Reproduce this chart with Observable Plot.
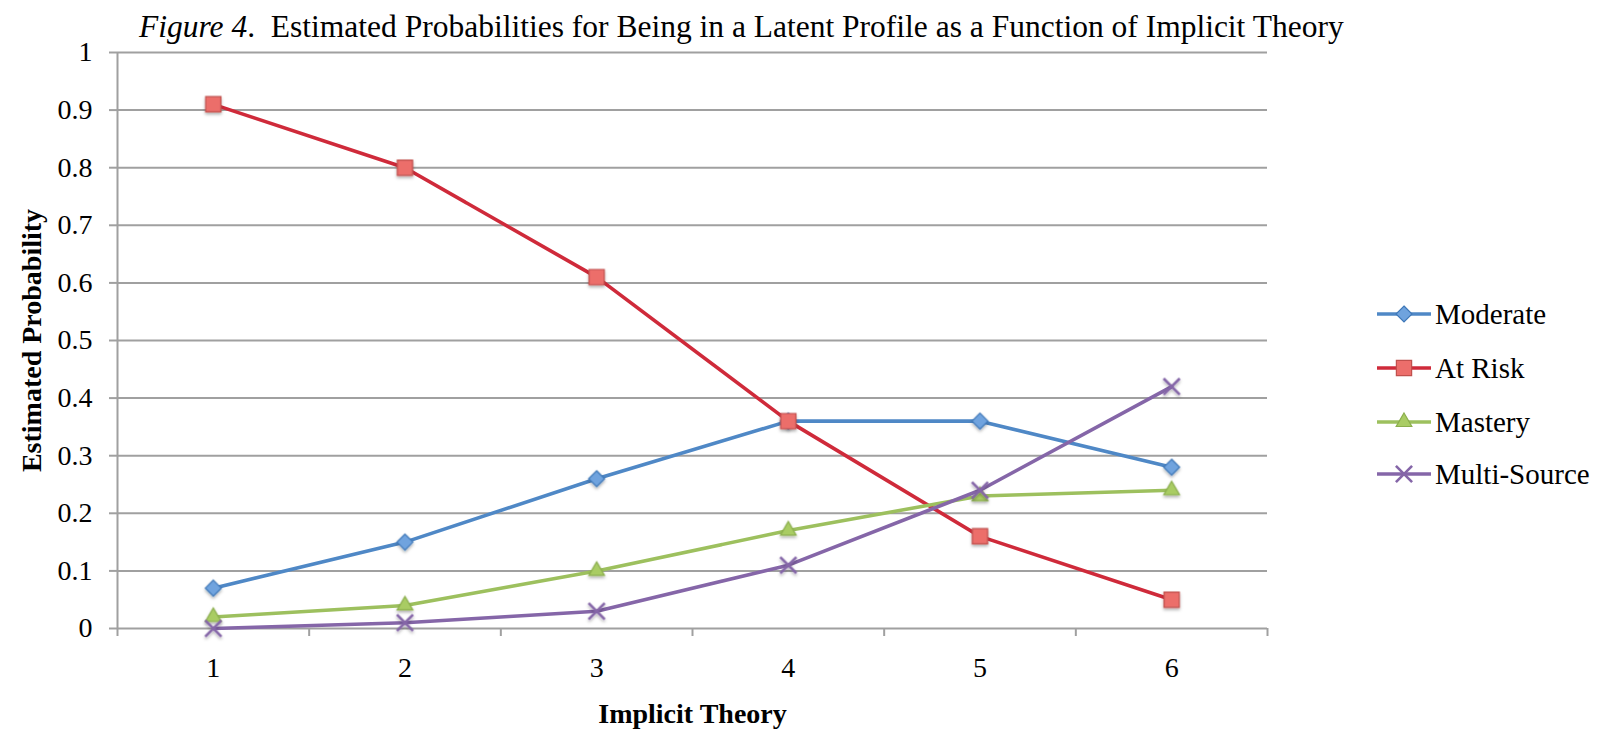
<!DOCTYPE html>
<html>
<head>
<meta charset="utf-8">
<script src="https://cdn.jsdelivr.net/npm/d3@7"></script>
<script src="https://cdn.jsdelivr.net/npm/@observablehq/plot@0.6"></script>
<style>
  html, body { margin: 0; padding: 0; background: white; }
  #wrap { position: relative; width: 1606px; height: 736px; overflow: hidden; font-family: "Liberation Serif", "Times New Roman", serif; }
  #title { position: absolute; left: 139px; top: 11px; font-size: 31.5px; line-height: 31px; white-space: nowrap; color: #000; }
  #chart { position: absolute; left: 0; top: 45px; }
  #legend { position: absolute; left: 1377px; top: 0; }
  .row { position: absolute; left: 0; height: 30px; display: flex; align-items: center; white-space: nowrap; font-size: 29px; }
  .row svg { display: block; margin-right: 4px; overflow: visible; }
</style>
</head>
<body>
<div id="wrap">
  <div id="title"><i>Figure 4</i>.&nbsp;&nbsp;Estimated Probabilities for Being in a Latent Profile as a Function of Implicit Theory</div>
  <div id="chart"></div>
  <div id="legend"></div>
</div>
<script>
// ---- data ----
const categories = [1, 2, 3, 4, 5, 6];
const seriesNames = ["Moderate", "At Risk", "Mastery", "Multi-Source"];
const moderate    = [0.07, 0.15, 0.26, 0.36, 0.36, 0.28];
const atRisk      = [0.91, 0.80, 0.61, 0.36, 0.16, 0.05];
const mastery     = [0.02, 0.04, 0.10, 0.17, 0.23, 0.24];
const multiSource = [0.00, 0.01, 0.03, 0.11, 0.24, 0.42];
const yTicks      = [0, 0.1, 0.2, 0.3, 0.4, 0.5, 0.6, 0.7, 0.8, 0.9, 1];
const yTickLabels = ["0", "0.1", "0.2", "0.3", "0.4", "0.5", "0.6", "0.7", "0.8", "0.9", "1"];
const xTitle = "Implicit Theory";
const yTitle = "Estimated Probability";

// ---- styles ----
const styles = {
  "Moderate":     {stroke: "#4F88C6", fill: "#6FA3DE", mstroke: "#3F78B8", symbol: "diamond2", r: 7.2},
  "At Risk":      {stroke: "#CF2A3A", fill: "#EC6E6B", mstroke: "#C0504D", symbol: "square", r: 8.6},
  "Mastery":      {stroke: "#9DC05E", fill: "#A9CC64", mstroke: "#8BAE4C", symbol: "triangle", r: 5.8},
  "Multi-Source": {stroke: "#8566A8", fill: "none",    mstroke: "#8566A8", symbol: "times", r: 7.4}
};
const valuesBySeries = [moderate, atRisk, mastery, multiSource];
const table = seriesNames.map((s, k) => categories.map((c, i) => ({series: s, x: c, y: valuesBySeries[k][i]})));
const boundaries = [...categories.map(c => c - 0.5), categories[categories.length - 1] + 0.5];
const gray = "#A0A0A0";

const seriesMarks = table.flatMap((rows, k) => {
  const st = styles[seriesNames[k]];
  return [
    Plot.line(rows, {x: "x", y: "y", stroke: st.stroke, strokeWidth: 3.6, strokeLinejoin: "round"}),
    Plot.dot(rows, {x: "x", y: "y", symbol: () => st.symbol, r: st.r, fill: st.fill,
      stroke: st.mstroke, strokeWidth: st.fill === "none" ? 2.6 : 1.2})
  ];
});

const chart = Plot.plot({
  width: 1300,
  height: 691,
  marginTop: 7,
  marginBottom: 108,
  marginLeft: 117,
  marginRight: 33,
  x: {domain: [boundaries[0], boundaries[boundaries.length - 1]]},
  y: {domain: [0, 1]},
  symbol: {type: "identity"},
  style: {fontFamily: "Liberation Serif, Times New Roman, serif", fontSize: "28px", color: "black", background: "white", overflow: "visible"},
  marks: [
    Plot.gridY(yTicks, {stroke: gray, strokeOpacity: 1, strokeWidth: 2}),
    Plot.ruleX([boundaries[0]], {stroke: gray, strokeWidth: 2}),
    Plot.axisY(yTicks, {tickSize: 8, tickPadding: 17, stroke: gray, strokeWidth: 2, tickFormat: (d) => yTickLabels[yTicks.indexOf(d)], label: null, fill: "black"}),
    Plot.axisX(boundaries, {tickSize: 8, stroke: gray, strokeWidth: 2, tickFormat: () => "", label: null}),
    Plot.axisX(categories, {tickSize: 0, tickPadding: 29, tickFormat: d => String(d), label: null, fill: "black"}),
    Plot.text([xTitle], {frameAnchor: "bottom", textAnchor: "middle", lineAnchor: "bottom", dy: 94, fontWeight: "bold", fill: "black"}),
    Plot.text([yTitle], {frameAnchor: "left", textAnchor: "middle", rotate: -90, lineAnchor: "middle", dx: -85, fontWeight: "bold", fill: "black"}),
    ...seriesMarks
  ]
});
document.getElementById("chart").appendChild(chart);

// soft marker shadows like the original
const svg = d3.select(chart);
const defs = svg.insert("defs", ":first-child");
const f = defs.append("filter").attr("id", "shadow").attr("x", "-50%").attr("y", "-50%").attr("width", "200%").attr("height", "200%");
f.append("feDropShadow").attr("dx", 0).attr("dy", 2).attr("stdDeviation", 1.5).attr("flood-color", "#000").attr("flood-opacity", 0.3);
svg.selectAll("g[aria-label='dot']").attr("filter", "url(#shadow)");

// ---- legend ----
const legend = d3.select("#legend");
const rowCenters = [314, 368, 422, 474];
seriesNames.forEach((s, k) => {
  const st = styles[s];
  const row = legend.append("div").attr("class", "row").style("top", (rowCenters[k] - 15) + "px");
  const sw = row.append("svg").attr("width", 54).attr("height", 30);
  sw.append("line").attr("x1", 0).attr("x2", 54).attr("y1", 15).attr("y2", 15).attr("stroke", st.stroke).attr("stroke-width", 3.6);
  const symMap = {diamond2: d3.symbolDiamond2, square: d3.symbolSquare, triangle: d3.symbolTriangle, times: d3.symbolTimes};
  sw.append("path").attr("transform", "translate(27,15)")
    .attr("d", d3.symbol(symMap[st.symbol], Math.PI * st.r * st.r)())
    .attr("fill", st.fill).attr("stroke", st.mstroke).attr("stroke-width", st.fill === "none" ? 2.6 : 1.2);
  row.append("span").text(s);
});
</script>
</body>
</html>
